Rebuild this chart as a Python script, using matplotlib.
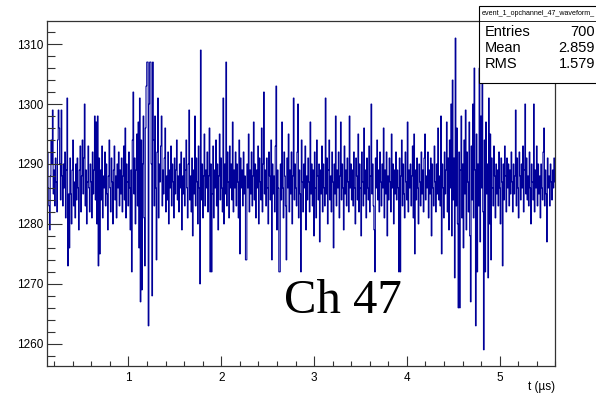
import matplotlib
matplotlib.use("Agg")
import matplotlib.pyplot as plt
import numpy as np
from matplotlib.patches import Rectangle
from matplotlib.lines import Line2D
from matplotlib.ticker import MultipleLocator

# waveform samples (ADC counts), 700 bins
waveform = [
    1292, 1286, 1283, 1279, 1288, 1294, 1290, 1299, 1285, 1289, 1283, 1291, 1287, 1282, 1294, 1299, 1296, 1290, 1284, 1299,
    1288, 1283, 1290, 1286, 1292, 1281, 1289, 1301, 1273, 1285, 1276, 1291, 1285, 1280, 1289, 1294, 1283, 1287, 1281, 1290,
    1284, 1291, 1286, 1279, 1289, 1293, 1282, 1288, 1294, 1285, 1291, 1300, 1283, 1289, 1280, 1287, 1293, 1286, 1282, 1290,
    1287, 1281, 1292, 1285, 1289, 1298, 1284, 1297, 1280, 1298, 1273, 1291, 1275, 1289, 1284, 1293, 1281, 1288, 1286, 1292,
    1283, 1290, 1285, 1279, 1288, 1294, 1286, 1282, 1291, 1287, 1280, 1289, 1293, 1284, 1288, 1281, 1290, 1286, 1292, 1283,
    1289, 1285, 1291, 1282, 1288, 1293, 1284, 1296, 1281, 1290, 1287, 1283, 1292, 1286, 1279, 1289, 1272, 1294, 1302, 1285,
    1291, 1280, 1289, 1295, 1283, 1297, 1276, 1301, 1267, 1294, 1269, 1290, 1298, 1281, 1273, 1296, 1303, 1307, 1307, 1263,
    1300, 1307, 1307, 1290, 1268, 1307, 1294, 1283, 1298, 1286, 1274, 1292, 1301, 1281, 1290, 1287, 1293, 1298, 1283, 1289,
    1285, 1291, 1296, 1282, 1288, 1284, 1292, 1280, 1289, 1286, 1293, 1283, 1290, 1287, 1281, 1291, 1285, 1289, 1294, 1284,
    1288, 1282, 1290, 1286, 1292, 1279, 1288, 1285, 1291, 1283, 1289, 1294, 1286, 1281, 1290, 1299, 1284, 1288, 1282, 1291,
    1278, 1289, 1285, 1298, 1283, 1291, 1287, 1280, 1293, 1286, 1270, 1309, 1284, 1290, 1281, 1288, 1295, 1283, 1289, 1286,
    1292, 1282, 1288, 1296, 1272, 1290, 1272, 1285, 1293, 1281, 1289, 1286, 1294, 1283, 1290, 1279, 1288, 1295, 1284, 1291,
    1286, 1282, 1301, 1280, 1290, 1285, 1307, 1283, 1292, 1287, 1281, 1293, 1286, 1290, 1284, 1297, 1282, 1289, 1286, 1292,
    1283, 1290, 1287, 1281, 1294, 1275, 1291, 1286, 1289, 1283, 1292, 1285, 1288, 1274, 1274, 1290, 1286, 1295, 1282, 1289,
    1285, 1292, 1283, 1288, 1297, 1284, 1290, 1281, 1289, 1286, 1293, 1280, 1291, 1287, 1284, 1296, 1282, 1290, 1302, 1285,
    1289, 1283, 1291, 1286, 1280, 1292, 1288, 1284, 1294, 1274, 1290, 1285, 1288, 1282, 1293, 1303, 1279, 1289, 1286, 1272,
    1272, 1290, 1284, 1297, 1286, 1281, 1292, 1288, 1283, 1274, 1291, 1286, 1295, 1282, 1289, 1285, 1292, 1280, 1288, 1301,
    1284, 1290, 1286, 1283, 1292, 1300, 1281, 1289, 1285, 1272, 1294, 1287, 1282, 1290, 1286, 1293, 1279, 1288, 1284, 1291,
    1287, 1282, 1297, 1285, 1290, 1283, 1289, 1278, 1292, 1286, 1281, 1294, 1288, 1284, 1290, 1277, 1289, 1285, 1293, 1282,
    1290, 1286, 1283, 1301, 1285, 1291, 1280, 1289, 1294, 1284, 1288, 1282, 1292, 1287, 1276, 1290, 1285, 1298, 1283, 1289,
    1286, 1292, 1281, 1288, 1297, 1284, 1290, 1286, 1279, 1293, 1285, 1289, 1283, 1291, 1287, 1282, 1298, 1286, 1290, 1284,
    1289, 1283, 1292, 1286, 1280, 1291, 1288, 1284, 1295, 1282, 1290, 1286, 1278, 1292, 1287, 1283, 1296, 1285, 1289, 1281,
    1291, 1286, 1284, 1293, 1282, 1288, 1300, 1285, 1290, 1283, 1279, 1272, 1291, 1286, 1294, 1284, 1289, 1282, 1292, 1287,
    1283, 1290, 1286, 1296, 1281, 1289, 1285, 1292, 1278, 1288, 1284, 1291, 1287, 1282, 1295, 1286, 1290, 1280, 1289, 1285,
    1292, 1284, 1289, 1286, 1272, 1291, 1272, 1288, 1294, 1283, 1290, 1285, 1281, 1292, 1287, 1284, 1297, 1282, 1289, 1286,
    1290, 1283, 1288, 1293, 1281, 1295, 1275, 1289, 1284, 1291, 1286, 1280, 1290, 1287, 1283, 1292, 1285, 1289, 1282, 1291,
    1295, 1284, 1288, 1286, 1292, 1281, 1289, 1285, 1291, 1278, 1290, 1286, 1283, 1293, 1287, 1282, 1290, 1285, 1296, 1284,
    1288, 1283, 1298, 1275, 1290, 1286, 1281, 1292, 1285, 1289, 1297, 1282, 1291, 1279, 1294, 1286, 1300, 1278, 1304, 1284,
    1291, 1271, 1311, 1283, 1296, 1280, 1266, 1292, 1266, 1289, 1298, 1281, 1290, 1276, 1294, 1285, 1299, 1279, 1292, 1287,
    1282, 1297, 1278, 1267, 1293, 1284, 1300, 1281, 1306, 1289, 1263, 1295, 1272, 1290, 1283, 1306, 1277, 1298, 1286, 1306,
    1282, 1259, 1294, 1272, 1297, 1285, 1290, 1271, 1301, 1280, 1295, 1274, 1291, 1286, 1283, 1293, 1288, 1281, 1290, 1285,
    1289, 1283, 1292, 1286, 1280, 1291, 1287, 1273, 1290, 1284, 1293, 1288, 1282, 1291, 1286, 1290, 1283, 1289, 1285, 1292,
    1287, 1282, 1290, 1285, 1288, 1299, 1283, 1291, 1286, 1281, 1292, 1288, 1284, 1290, 1286, 1293, 1282, 1289, 1300, 1285,
    1291, 1284, 1288, 1283, 1292, 1286, 1280, 1290, 1287, 1284, 1300, 1282, 1289, 1286, 1293, 1283, 1290, 1285, 1288, 1281,
    1290, 1286, 1284, 1292, 1296, 1283, 1289, 1285, 1277, 1291, 1286, 1288, 1283, 1290, 1287, 1284, 1289, 1286, 1291, 1287,
]

# histogram range in microseconds
t_min = 0.125
t_max = 5.6

hist_name = "event_1_opchannel_47_waveform_"
stat_labels = ["Entries", "Mean", "RMS"]
stat_values = ["700", "2.859", "1.579"]
channel_label = "Ch 47"
x_label = "t (\u00b5s)"

W, H = 596, 399
fig = plt.figure(figsize=(W / 100, H / 100), dpi=100)
ax = fig.add_axes([47.3 / W, 1 - 366 / H, (555.3 - 47.3) / W, (366 - 20.7) / H])

edges = np.linspace(t_min, t_max, len(waveform) + 1)
ax.stairs(waveform, edges, color="#000099", lw=0.75, baseline=None)

ax.set_xlim(t_min, t_max)
ax.set_ylim(1256.3, 1313.9)

# ROOT style axes: ticks inside, only bottom and left
frame_col = "#333333"
for s in ax.spines.values():
    s.set_color(frame_col)
    s.set_linewidth(0.9)
ax.xaxis.set_major_locator(MultipleLocator(1))
ax.xaxis.set_minor_locator(MultipleLocator(0.2))
ax.yaxis.set_major_locator(MultipleLocator(10))
ax.yaxis.set_minor_locator(MultipleLocator(2))
ax.tick_params(axis="x", which="major", direction="in", length=7.2, width=0.8, color=frame_col, pad=4.5)
ax.tick_params(axis="x", which="minor", direction="in", length=3.6, width=0.8, color=frame_col)
ax.tick_params(axis="y", which="major", direction="in", length=10.8, width=0.8, color=frame_col, pad=3)
ax.tick_params(axis="y", which="minor", direction="in", length=5.6, width=0.8, color=frame_col)
for lab in ax.get_xticklabels() + ax.get_yticklabels():
    lab.set_fontfamily("Liberation Sans")
    lab.set_fontsize(8.5)

fig.text(555.3 / W, 1 - 387 / H, x_label, ha="right", va="center",
         fontsize=8.5, family="Liberation Sans")

# big channel label
fig.text(284 / W, 1 - 312.7 / H, channel_label, ha="left", va="baseline",
         fontsize=35, family="Liberation Serif")

# stats box (runs off the right edge, like the original canvas)
bx0, by_top, by_bot, by_mid = 479 / W, 1 - 5.7 / H, 1 - 83 / H, 1 - 21 / H
fig.patches.append(Rectangle((bx0, by_bot), 0.3, by_top - by_bot, transform=fig.transFigure,
                             facecolor="white", edgecolor="black", lw=0.8, zorder=5))
fig.lines.append(Line2D([bx0, 1.2], [by_mid, by_mid], transform=fig.transFigure,
                        color="black", lw=0.6, zorder=6))
fig.text(482 / W, 1 - 13.5 / H, hist_name, ha="left", va="center", fontsize=5.1,
         family="Liberation Sans", zorder=7)
for i, (lab, val) in enumerate(zip(stat_labels, stat_values)):
    yb = 1 - (36.5 + 15.5 * i) / H
    fig.text(485 / W, yb, lab, ha="left", va="baseline", fontsize=10.5,
             family="Liberation Sans", zorder=7)
    fig.text(595 / W, yb, val, ha="right", va="baseline", fontsize=10.5,
             family="Liberation Sans", zorder=7)

fig.savefig("out.png", dpi=100)
